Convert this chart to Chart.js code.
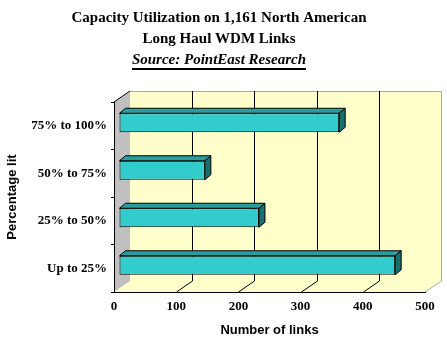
<!DOCTYPE html>
<html>
<head>
<meta charset="utf-8">
<script src="https://cdn.jsdelivr.net/npm/chart.js@4.4.0/dist/chart.umd.min.js"></script>
<style>
  html, body { margin: 0; padding: 0; background: #fff; }
</style>
</head>
<body>
<canvas id="chart" width="447" height="345"></canvas>
<script>
// Data
const categories = ['75% to 100%', '50% to 75%', '25% to 50%', 'Up to 25%'];
const linkCounts = [354, 138, 225, 444];
const xTicks = [0, 100, 200, 300, 400, 500];
const titleLines = ['Capacity Utilization on 1,161 North American', 'Long Haul WDM Links'];
const sourceLine = 'Source: PointEast Research';

const SERIF = "'Liberation Serif', 'Times New Roman', serif";
const SANS = "'Liberation Sans', Arial, sans-serif";

// 3D look: offset of the back wall, and of the bars inside the box
const DEPTH = { x: 16, y: -11 };
const BAR_SHIFT = { x: 5, y: -3 };
const BAR_DEPTH = { x: 6, y: -5 };

function poly(ctx, pts) {
    ctx.beginPath();
    ctx.moveTo(pts[0][0], pts[0][1]);
    for (let i = 1; i < pts.length; i++) ctx.lineTo(pts[i][0], pts[i][1]);
    ctx.closePath();
}

// Back wall, side wall, floor and gridlines
const walls = {
    id: 'walls',
    beforeDraw(chart) {
        const ctx = chart.ctx;
        const { left, right, top, bottom } = chart.chartArea;
        const dx = DEPTH.x, dy = DEPTH.y;
        const xs = chart.scales.x;

        ctx.save();
        ctx.fillStyle = '#fff';
        ctx.fillRect(0, 0, chart.width, chart.height);

        ctx.fillStyle = '#ffffcc';
        ctx.fillRect(left + dx, top + dy, right - left, bottom - top);
        poly(ctx, [[left, bottom], [left + dx, bottom + dy], [right + dx, bottom + dy], [right, bottom]]);
        ctx.fill();

        ctx.fillStyle = '#c0c0c0';
        poly(ctx, [[left, top], [left + dx, top + dy], [left + dx, bottom + dy], [left, bottom]]);
        ctx.fill();

        // light outline of the box
        ctx.strokeStyle = '#a8a8a8';
        ctx.lineWidth = 1;
        ctx.beginPath();
        ctx.moveTo(left + dx, Math.round(top + dy) + 0.5);
        ctx.lineTo(Math.round(right + dx) + 0.5, Math.round(top + dy) + 0.5);
        ctx.lineTo(Math.round(right + dx) + 0.5, bottom + dy);
        ctx.lineTo(right, bottom);
        ctx.stroke();

        // gridlines on back wall, running down over the floor
        ctx.strokeStyle = '#000';
        xTicks.slice(1, -1).forEach(v => {
            const px = Math.round(xs.getPixelForValue(v));
            ctx.beginPath();
            ctx.moveTo(px + dx + 0.5, top + dy);
            ctx.lineTo(px + dx + 0.5, bottom + dy);
            ctx.lineTo(px + 0.5, bottom);
            ctx.stroke();
        });

        // top edge of the side wall
        ctx.beginPath();
        ctx.moveTo(left, top);
        ctx.lineTo(left + dx, top + dy);
        ctx.stroke();
        ctx.restore();
    }
};

// Bars pushed into the box and given a top and side face
const bars3d = {
    id: 'bars3d',
    beforeDatasetsDraw(chart) {
        chart.ctx.save();
        chart.ctx.translate(BAR_SHIFT.x, BAR_SHIFT.y);
    },
    afterDatasetsDraw(chart) {
        const ctx = chart.ctx;
        const bx = BAR_DEPTH.x, by = BAR_DEPTH.y;
        ctx.lineWidth = 1;
        ctx.strokeStyle = '#000';
        chart.getDatasetMeta(0).data.forEach(bar => {
            const { x, y, base, height } = bar.getProps(['x', 'y', 'base', 'height'], true);
            const t = y - height / 2, b = y + height / 2;

            ctx.fillStyle = '#2a9e9e';
            poly(ctx, [[base, t], [base + bx, t + by], [x + bx, t + by], [x, t]]);
            ctx.fill();
            ctx.stroke();

            ctx.fillStyle = '#1a6e6e';
            poly(ctx, [[x, t], [x + bx, t + by], [x + bx, b + by], [x, b]]);
            ctx.fill();
            ctx.stroke();
        });
        ctx.restore();
    }
};

// Underline under the source line
const underline = {
    id: 'underline',
    afterDraw(chart) {
        const box = chart.boxes.find(b => b.options && b.options.text === sourceLine);
        if (!box) return;
        const ctx = chart.ctx;
        ctx.save();
        ctx.font = `italic bold 15px ${SERIF}`;
        const w = ctx.measureText(sourceLine).width;
        const cx = (box.left + box.right) / 2;
        const y = box.top + 18;
        ctx.fillStyle = '#000';
        ctx.fillRect(Math.round(cx - w / 2), y, Math.round(w), 2);
        ctx.restore();
    }
};

Chart.defaults.color = '#000';

new Chart(document.getElementById('chart'), {
    type: 'bar',
    data: {
        labels: categories,
        datasets: [{
            data: linkCounts,
            backgroundColor: '#33cccc',
            borderColor: '#000',
            borderWidth: 1,
            borderSkipped: false,
            barPercentage: 0.4,
            categoryPercentage: 1
        }]
    },
    options: {
        indexAxis: 'y',
        responsive: false,
        animation: false,
        devicePixelRatio: 1,
        layout: { padding: { left: 13, right: 22, top: 0, bottom: 0 } },
        plugins: {
            legend: { display: false },
            tooltip: { enabled: false },
            title: {
                display: true,
                text: titleLines,
                font: { family: SERIF, size: 15, weight: 'bold', lineHeight: 1.4 },
                padding: { top: 8, bottom: 0 }
            },
            subtitle: {
                display: true,
                text: sourceLine,
                font: { family: SERIF, size: 15, weight: 'bold', style: 'italic', lineHeight: 1.4 },
                padding: { top: 0, bottom: 31 }
            }
        },
        scales: {
            x: {
                type: 'linear',
                min: xTicks[0],
                max: xTicks[xTicks.length - 1],
                afterBuildTicks: s => { s.ticks = xTicks.map(v => ({ value: v })); },
                ticks: { padding: 7, font: { family: SERIF, size: 13, weight: 'bold' } },
                grid: { drawOnChartArea: false, drawTicks: false, color: '#000' },
                border: { color: '#000', width: 1 },
                title: {
                    display: true,
                    text: 'Number of links',
                    font: { family: SANS, size: 13, weight: 'bold' },
                    padding: { top: 0, bottom: 7 }
                },
                afterFit: s => { s.height = 53; }
            },
            y: {
                type: 'category',
                ticks: { padding: 4, font: { family: SERIF, size: 13, weight: 'bold' } },
                grid: { drawOnChartArea: false, tickLength: 3, color: '#000', offset: true },
                border: { color: '#000', width: 1 },
                title: {
                    display: true,
                    text: 'Percentage lit',
                    font: { family: SANS, size: 13, weight: 'bold' },
                    padding: { top: -8, bottom: 0 }
                },
                afterFit: s => { s.width = 101; }
            }
        }
    },
    plugins: [walls, bars3d, underline]
});
</script>
</body>
</html>
